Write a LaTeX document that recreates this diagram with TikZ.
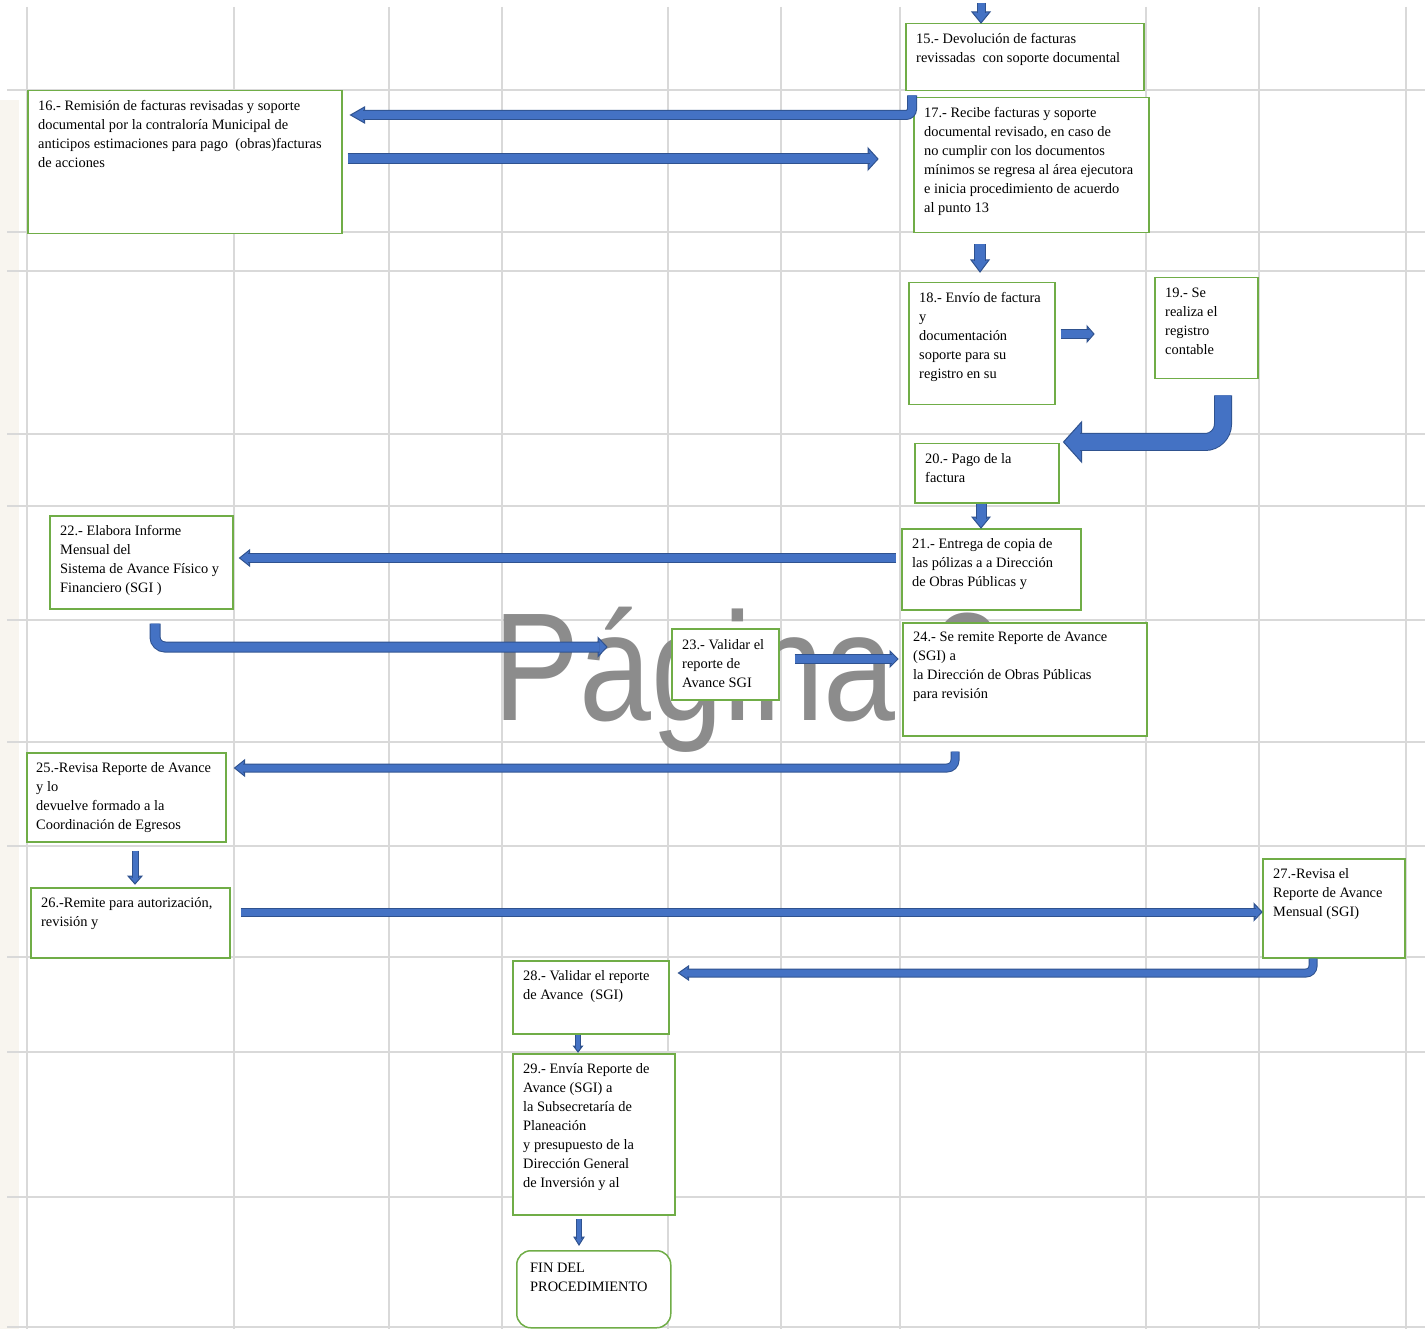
\documentclass[tikz,border=0pt]{standalone}
\usepackage{fontspec}
\setmainfont{Liberation Serif}
\newfontfamily\wmfont{Liberation Sans}
\usepackage{graphicx}
\usetikzlibrary{calc}
\definecolor{arrfill}{HTML}{4472C4}
\definecolor{arrline}{HTML}{2F528F}
\definecolor{boxgreen}{HTML}{70AD47}
\definecolor{gridc}{HTML}{D9D9D9}
\definecolor{wmgray}{HTML}{8C8C8C}
\definecolor{leftbg}{HTML}{F8F5EF}
\newcommand\tipD[3]{\filldraw[arrhead] (#1) -- ++(#2,-#3) -- ++(-2*#2,0) -- cycle;}
\newcommand\tipL[3]{\filldraw[arrhead] (#1) -- ++(#3,-#2) -- ++(0,2*#2) -- cycle;}
\newcommand\tipR[3]{\filldraw[arrhead] (#1) -- ++(-#3,-#2) -- ++(0,2*#2) -- cycle;}
\tikzset{
  box/.style={draw=boxgreen, fill=white, line width=1.5pt, anchor=north west, inner sep=0pt},
  txt/.style={anchor=north west, inner sep=0pt, align=left, font=\fontsize{14.4}{19}\selectfont, execute at begin node=\strut},
  shaft/.style={draw=arrline, line width=1pt, double=arrfill, double distance=#1},
  arrhead/.style={fill=arrfill, draw=arrline, line width=1pt, line join=miter},
  gridline/.style={draw=gridc, line width=1.6pt},
}
\begin{document}
\begin{tikzpicture}[x=1pt, y=-1pt]
\useasboundingbox (0,0) rectangle (1425,1329);
\fill[white] (0,0) rectangle (1425,1329);
\fill[leftbg] (0,100) rectangle (19,1329);
% grid
\foreach \x in {27,234,389,502,668,781,900,1146,1259,1406}
  \draw[gridline] (\x,7) -- (\x,1329);
\foreach \y in {90,232,271,434,506,620,742,846,957,1052,1197,1327}
  \draw[gridline] (7,\y) -- (1425,\y);
% watermark
\node[anchor=base west, inner sep=0pt, text=wmgray] (wm) at (493,720)
  {\scalebox{0.84}[1]{\wmfont\fontsize{154}{154}\selectfont Página 2}};
% boxes
\node[box, minimum width=238pt, minimum height=67pt] (n15) at (905,23) {};
\node[box, minimum width=314pt, minimum height=143pt] (n16) at (27,90) {};
\node[box, minimum width=235pt, minimum height=135pt] (n17) at (913,97) {};
\node[box, minimum width=146pt, minimum height=122pt] (n18) at (908,282) {};
\node[box, minimum width=103pt, minimum height=101pt] (n19) at (1154,277) {};
\node[box, minimum width=144pt, minimum height=59pt] (n20) at (914,443) {};
\node[box, minimum width=179pt, minimum height=81pt] (n21) at (901,528) {};
\node[box, minimum width=183pt, minimum height=93pt] (n22) at (49,515) {};
\node[box, minimum width=107pt, minimum height=71pt] (n23) at (671,628) {};
\node[box, minimum width=244pt, minimum height=113pt] (n24) at (902,622) {};
\node[box, minimum width=199pt, minimum height=89pt] (n25) at (26,752) {};
\node[box, minimum width=199pt, minimum height=70pt] (n26) at (30,887) {};
\node[box, minimum width=142pt, minimum height=99pt] (n27) at (1262,858) {};
\node[box, minimum width=156pt, minimum height=73pt] (n28) at (512,960) {};
\node[box, minimum width=162pt, minimum height=161pt] (n29) at (512,1053) {};
\node[box, minimum width=154pt, minimum height=77pt, rounded corners=14pt] (fin) at (516,1250) {};
% texts
\node[txt] (t15) at ($(n15.north west)+(11,10.5)$) {15.- Devolución de facturas\\revissadas\ \ con soporte documental};
\node[txt] (t16) at ($(n16.north west)+(11,10.5)$) {16.- Remisión de facturas revisadas y soporte\\documental por la contraloría Municipal de\\anticipos estimaciones para pago\ \ (obras)facturas\\de acciones};
\node[txt] (t17) at ($(n17.north west)+(11,10.5)$) {17.- Recibe facturas y soporte\\documental revisado, en caso de\\no cumplir con los documentos\\mínimos se regresa al área ejecutora\\e inicia procedimiento de acuerdo\\al punto 13};
\node[txt] (t18) at ($(n18.north west)+(11,10.5)$) {18.- Envío de factura\\y\\documentación\\soporte para su\\registro en su};
\node[txt] (t19) at ($(n19.north west)+(11,10.5)$) {19.- Se\\realiza el\\registro\\contable};
\node[txt] (t20) at ($(n20.north west)+(11,10.5)$) {20.- Pago de la\\factura};
\node[txt] (t21) at ($(n21.north west)+(11,10.5)$) {21.- Entrega de copia de\\las pólizas a a Dirección\\de Obras Públicas y};
\node[txt] (t22) at ($(n22.north west)+(11,10.5)$) {22.- Elabora Informe\\Mensual del\\Sistema de Avance Físico y\\Financiero (SGI )};
\node[txt] (t23) at ($(n23.north west)+(11,11.5)$) {23.- Validar el\\reporte de\\Avance SGI};
\node[txt] (t24) at ($(n24.north west)+(11,9.8)$) {24.- Se remite Reporte de Avance\\(SGI) a\\la Dirección de Obras Públicas\\para revisión};
\node[txt] (t25) at ($(n25.north west)+(10,10.5)$) {25.-Revisa Reporte de Avance\\y lo\\devuelve formado a la\\Coordinación de Egresos};
\node[txt] (t26) at ($(n26.north west)+(11,10.5)$) {26.-Remite para autorización,\\revisión y};
\node[txt] (t27) at ($(n27.north west)+(11,10.5)$) {27.-Revisa el\\Reporte de Avance\\Mensual (SGI)};
\node[txt] (t28) at ($(n28.north west)+(11,10.5)$) {28.- Validar el reporte\\de Avance\ \ (SGI)};
\node[txt] (t29) at ($(n29.north west)+(11,10.5)$) {29.- Envía Reporte de\\Avance (SGI) a\\la Subsecretaría de\\Planeación\\y presupuesto de la\\Dirección General\\de Inversión y al};
\node[txt] (tfin) at ($(fin.north west)+(14,12.5)$) {FIN DEL\\PROCEDIMIENTO};
% arrow coordinates
\coordinate (a0t) at ($(n15.north west)+(76,0)$);
\coordinate (a0s) at ($(a0t)+(0,-20)$);
\coordinate (a1s) at ($(n15.south west)+(7,4)$);
\coordinate (a1t) at ($(n16.north east)+(8,25)$);
\coordinate (a2s) at ($(n16.north east)+(5,69)$);
\coordinate (a2t) at ($(n17.north west)+(-35,62)$);
\coordinate (a3s) at ($(n17.south west)+(67,11)$);
\coordinate (a3t) at ($(n18.north west)+(72,-10)$);
\coordinate (a4s) at ($(n18.north east)+(5,52)$);
\coordinate (a4t) at ($(n19.north west)+(-60,57)$);
\coordinate (a5s) at ($(n19.south west)+(69,16)$);
\coordinate (a5t) at ($(n20.north east)+(4,-1)$);
\coordinate (a6s) at ($(n20.south west)+(67,0)$);
\coordinate (a6t) at ($(n21.north west)+(80,0)$);
\coordinate (a7s) at ($(n21.north west)+(-5,30)$);
\coordinate (a7t) at ($(n22.north east)+(6,43)$);
\coordinate (a8s) at ($(n22.south west)+(106,14)$);
\coordinate (a8t) at ($(n23.north west)+(-64,19)$);
\coordinate (a9s) at ($(n23.north east)+(15,31)$);
\coordinate (a9t) at ($(n24.north west)+(-4,37)$);
\coordinate (a10s) at ($(n24.south west)+(53,15)$);
\coordinate (a10t) at ($(n25.north east)+(8,16)$);
\coordinate (a11s) at ($(n25.south west)+(109,8)$);
\coordinate (a11t) at ($(n26.north west)+(105,-3)$);
\coordinate (a12s) at ($(n26.north east)+(10,25)$);
\coordinate (a12t) at ($(n27.north west)+(0,54)$);
\coordinate (a13s) at ($(n27.south west)+(51,0)$);
\coordinate (a13t) at ($(n28.north east)+(9,13)$);
\coordinate (a14s) at ($(n28.south west)+(66,0)$);
\coordinate (a14t) at ($(n29.north west)+(66,-1)$);
\coordinate (a15s) at ($(n29.south west)+(67,3)$);
\coordinate (a15t) at ($(fin.north west)+(63,-5)$);
% arrows
\tipD{a0t}{9}{11}
\draw[shaft=7pt] (a0s) -- ($(a0t)+(0,-9.5)$);
\tipL{a1t}{8}{14}
\draw[shaft=8pt, rounded corners=6pt] (a1s) |- ($(a1t)+(12.5,0)$);
\tipR{a2t}{11}{10}
\draw[shaft=9pt] (a2s) -- ($(a2t)+(-8.5,0)$);
\tipD{a3t}{9}{12}
\draw[shaft=10pt] (a3s) -- ($(a3t)+(0,-10.5)$);
\tipR{a4t}{8}{7}
\draw[shaft=8pt] (a4s) -- ($(a4t)+(-5.5,0)$);
\tipL{a5t}{20}{18}
\draw[shaft=16pt, rounded corners=18pt] (a5s) |- ($(a5t)+(16.5,0)$);
\tipD{a6t}{9}{11}
\draw[shaft=9pt] (a6s) -- ($(a6t)+(0,-9.5)$);
\tipL{a7t}{8}{10}
\draw[shaft=8pt] (a7s) -- ($(a7t)+(8.5,0)$);
\tipR{a8t}{9.5}{9}
\draw[shaft=9pt, rounded corners=10pt] (a8s) |- ($(a8t)+(-7.5,0)$);
\tipR{a9t}{8}{8}
\draw[shaft=8pt] (a9s) -- ($(a9t)+(-6.5,0)$);
\tipL{a10t}{8}{10}
\draw[shaft=7pt, rounded corners=8pt] (a10s) |- ($(a10t)+(8.5,0)$);
\tipD{a11t}{7}{8}
\draw[shaft=5pt] (a11s) -- ($(a11t)+(0,-6.5)$);
\tipR{a12t}{8.5}{8}
\draw[shaft=7pt] (a12s) -- ($(a12t)+(-6.5,0)$);
\tipL{a13t}{7}{10}
\draw[shaft=7pt, rounded corners=7pt] (a13s) |- ($(a13t)+(8.5,0)$);
\tipD{a14t}{4.5}{6}
\draw[shaft=3.5pt] (a14s) -- ($(a14t)+(0,-4.5)$);
\tipD{a15t}{5}{8}
\draw[shaft=3.5pt] (a15s) -- ($(a15t)+(0,-6.5)$);
\end{tikzpicture}
\end{document}
